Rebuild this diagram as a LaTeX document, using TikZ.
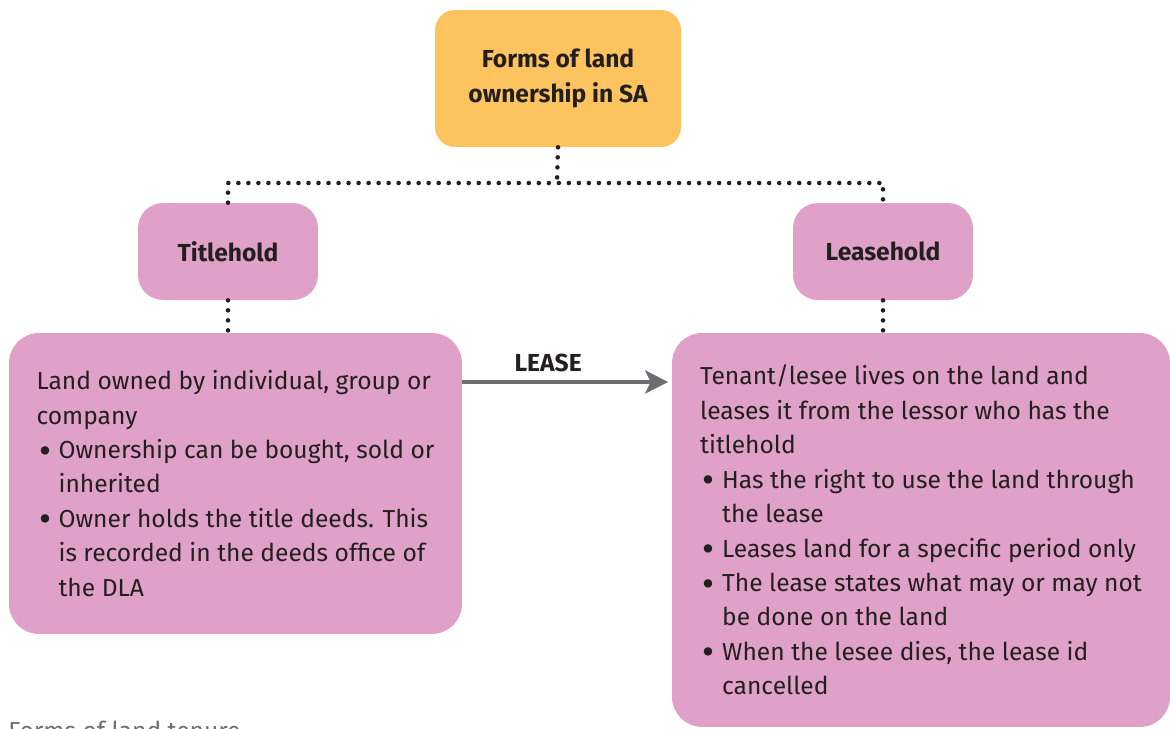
\documentclass[tikz,border=0pt]{standalone}
\usepackage{fontspec}
\usepackage{graphicx}
\setmainfont{Fira Sans}
\usetikzlibrary{arrows.meta,positioning}
\definecolor{boxorange}{HTML}{FDC35F}
\definecolor{boxpink}{HTML}{DFA1C8}
\definecolor{inkdark}{HTML}{231F20}
\definecolor{arrowgrey}{HTML}{6D6E71}
\newcommand{\bul}{\makebox[0.44cm][l]{\hspace{1.5pt}\smash{\raisebox{-2.6pt}{\scalebox{1.5}{\textbullet}}}}}
\newcommand{\ind}{\hspace*{0.44cm}}
\tikzstyle{headbox} = [rectangle, rounded corners=0.4cm, minimum width=4.92cm, minimum height=2.74cm, align=center, fill=boxorange, text=inkdark, font=\bfseries\fontsize{14}{19.6}\selectfont]
\tikzstyle{kindbox} = [rectangle, rounded corners=0.5cm, minimum width=3.6cm, minimum height=1.94cm, align=center, fill=boxpink, text=inkdark, font=\bfseries\fontsize{14}{19.6}\selectfont]
\tikzstyle{infobox} = [rectangle, rounded corners=0.6cm, align=left, fill=boxpink, text=inkdark, font=\fontsize{14}{19.6}\selectfont]
\tikzstyle{dotline} = [line width=2.6pt, line cap=round, dash pattern=on 0pt off 5.7pt, inkdark]
\tikzstyle{arrow} = [line width=2.8pt, arrowgrey, -{Stealth[length=13pt,width=13pt,inset=3pt]}]

\begin{document}
\begin{tikzpicture}[x=0.02cm, y=-0.02cm]
  \clip (0,0) rectangle (1170,728);
  \node (forms)[headbox] at (558,78.5) {Forms of land\\ownership in SA};
  \node (title)[kindbox] at (228,251.5) {Titlehold};
  \node (lease)[kindbox] at (883,251.5) {Leasehold};
  \node (owned)[infobox, minimum width=9.06cm, minimum height=6.02cm] at (235.5,483.5)
    {Land owned by individual, group or\\
     company\\
     \bul Ownership can be bought, sold or\\
     \ind inherited\\
     \bul Owner holds the title deeds. This\\
     \ind is recorded in the deeds office of\\
     \ind the DLA};
  \node (tenant)[infobox, minimum width=9.96cm, minimum height=7.88cm] at (921,530)
    {Tenant/lesee lives on the land and\\
     leases it from the lessor who has the\\
     titlehold\\
     \bul Has the right to use the land through\\
     \ind the lease\\
     \bul Leases land for a specific period only\\
     \bul The lease states what may or may not\\
     \ind be done on the land\\
     \bul When the lesee dies, the lease id\\
     \ind cancelled};
  % dotted tree
  \coordinate (split) at (557,183);
  \coordinate (leaseline) at (0,382);
  \draw [dotline] (forms.south) -- (split);
  \draw [dotline] (title.north) |- (split) -| (lease.north);
  \draw [dotline] (title.south) -- (title.south |- owned.north);
  \draw [dotline] (lease.south) -- (lease.south |- tenant.north);
  \draw [arrow, shorten >=2pt] (owned.east |- leaseline) -- node[pos=0.41, above=1pt, text=inkdark, font=\bfseries\fontsize{14}{19.6}\selectfont]{LEASE} (tenant.west |- leaseline);
  \node (caption)[anchor=base west, text=arrowgrey, font=\fontsize{14}{19.6}\selectfont, inner sep=0pt] at (8,739) {Forms of land tenure};
\end{tikzpicture}
\end{document}
